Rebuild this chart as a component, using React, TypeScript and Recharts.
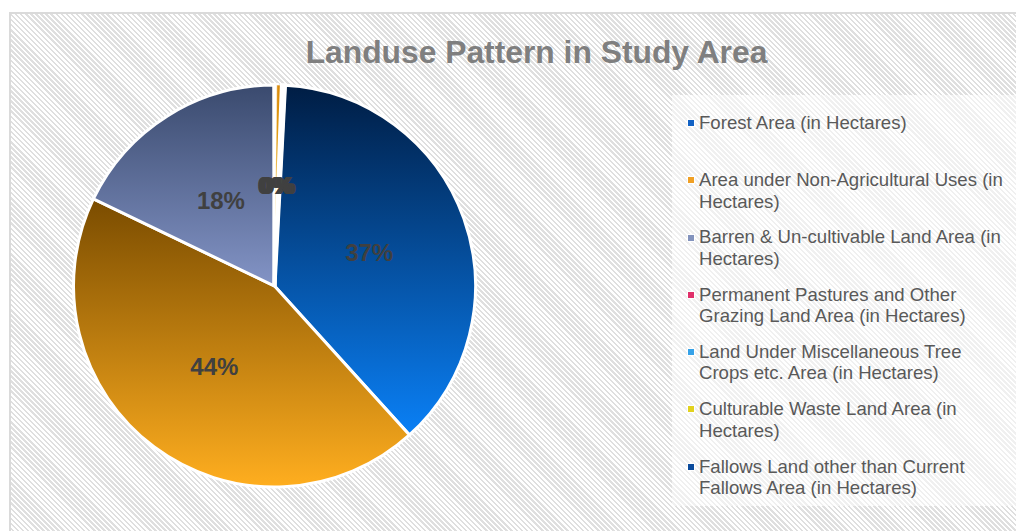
import React from 'react';
import { PieChart, Pie, Cell, Legend } from 'recharts';

const title = 'Landuse Pattern in Study Area';

const categories = [
  'Forest Area (in Hectares)',
  'Area under Non-Agricultural Uses (in Hectares)',
  'Barren & Un-cultivable Land Area (in Hectares)',
  'Permanent Pastures and Other Grazing Land Area (in Hectares)',
  'Land Under Miscellaneous Tree Crops etc. Area (in Hectares)',
  'Culturable Waste Land Area (in Hectares)',
  'Fallows Land other than Current Fallows Area (in Hectares)',
];

const shares = [37.45, 43.85, 17.85, 0.1, 0.1, 0.4, 0.25];

const legendColors = ['#1262c4', '#f0a024', '#8393bd', '#e0306a', '#36a2e8', '#e2d21e', '#0b4b9c'];
const gradTop = ['#001d44', '#7a4c00', '#3a4a6e', '#9a1040', '#0a5aa0', '#d98a0a', '#002050'];
const gradBottom = ['#0a80f6', '#ffae1f', '#8394c6', '#ff5a8a', '#5cc0ff', '#ffd83a', '#0a60c0'];
const sliceStroke = [3, 3, 3, 4, 4, 0.5, 4];

const data = categories.map((name, i) => ({ name, value: shares[i] }));
const total = shares.reduce((a, b) => a + b, 0);

const FONT = '"Liberation Sans", Arial, Helvetica, sans-serif';
const RAD = Math.PI / 180;

const renderLabel = (props: any) => {
  const { cx, cy, midAngle, outerRadius, index } = props;
  const r = outerRadius * 0.5;
  const x = cx + r * Math.cos(-midAngle * RAD);
  const y = cy + r * Math.sin(-midAngle * RAD);
  const pct = Math.round((shares[index] / total) * 100);
  return (
    <text
      key={'lbl' + index}
      x={x}
      y={y}
      textAnchor="middle"
      dominantBaseline="central"
      fill="#404040"
      fontFamily={FONT}
      fontWeight="bold"
      fontSize={24}
    >
      {pct + '%'}
    </text>
  );
};

const renderLegend = () => (
  <div
    style={{
      width: '100%',
      height: '100%',
      boxSizing: 'border-box',
      paddingTop: 16.8,
      background:
        'repeating-linear-gradient(45deg, #ffffff 0px, #ffffff 1.8px, #f0f0f0 1.8px, #f0f0f0 3.6px)',
      fontFamily: FONT,
      fontSize: 18.6,
      lineHeight: '21.5px',
      color: '#595959',
    }}
  >
    {categories.map((c, i) => (
      <div key={c} style={{ position: 'relative', height: 57.3 }}>
        <div
          style={{
            position: 'absolute',
            left: 16,
            top: 8.2,
            width: 6,
            height: 6,
            background: legendColors[i],
            outline: '1px solid rgba(255,255,255,0.9)',
          }}
        />
        <div style={{ position: 'absolute', left: 27, top: 0, width: 312 }}>{c}</div>
      </div>
    ))}
  </div>
);

export default function App() {
  return (
    <div
      style={{
        position: 'fixed',
        left: 0,
        top: 0,
        width: 1016,
        height: 531,
        overflow: 'hidden',
        background: '#ffffff',
      }}
    >
      <div
        style={{
          position: 'absolute',
          left: 9,
          top: 12,
          width: 1100,
          height: 600,
          border: '2px solid #dadada',
          background:
            'repeating-linear-gradient(45deg, #ffffff 0px, #ffffff 1.8px, #dfdfdf 1.8px, #dfdfdf 3.6px)',
        }}
      />
      <div
        style={{
          position: 'absolute',
          left: 0,
          top: 63 - 29,
          width: 1073,
          textAlign: 'center',
          fontFamily: FONT,
          fontWeight: 'bold',
          fontSize: 31.8,
          lineHeight: '36px',
          color: '#7f7f7f',
        }}
      >
        {title}
      </div>
      <div style={{ position: 'absolute', left: 0, top: 0 }}>
        <PieChart width={1016} height={531} margin={{ top: 0, right: 0, bottom: 0, left: 0 }}>
          <defs>
            {gradTop.map((t, i) => (
              <linearGradient key={i} id={'pg' + i} x1="0" y1="0" x2="0" y2="1">
                <stop offset="0%" stopColor={t} />
                <stop offset="100%" stopColor={gradBottom[i]} />
              </linearGradient>
            ))}
          </defs>
          <Pie
            data={data}
            dataKey="value"
            nameKey="name"
            cx={274.5}
            cy={286}
            outerRadius={201}
            startAngle={87}
            endAngle={-273}
            stroke="#ffffff"
            strokeWidth={3}
            label={renderLabel}
            labelLine={false}
            isAnimationActive={false}
          >
            {data.map((d, i) => (
              <Cell key={d.name} fill={'url(#pg' + i + ')'} stroke="#ffffff" strokeWidth={sliceStroke[i]} />
            ))}
          </Pie>
          <Legend
            layout="vertical"
            align="right"
            verticalAlign="top"
            content={renderLegend}
            wrapperStyle={{ left: 672, top: 95, right: 'auto', width: 360, height: 411 }}
          />
        </PieChart>
      </div>
    </div>
  );
}
